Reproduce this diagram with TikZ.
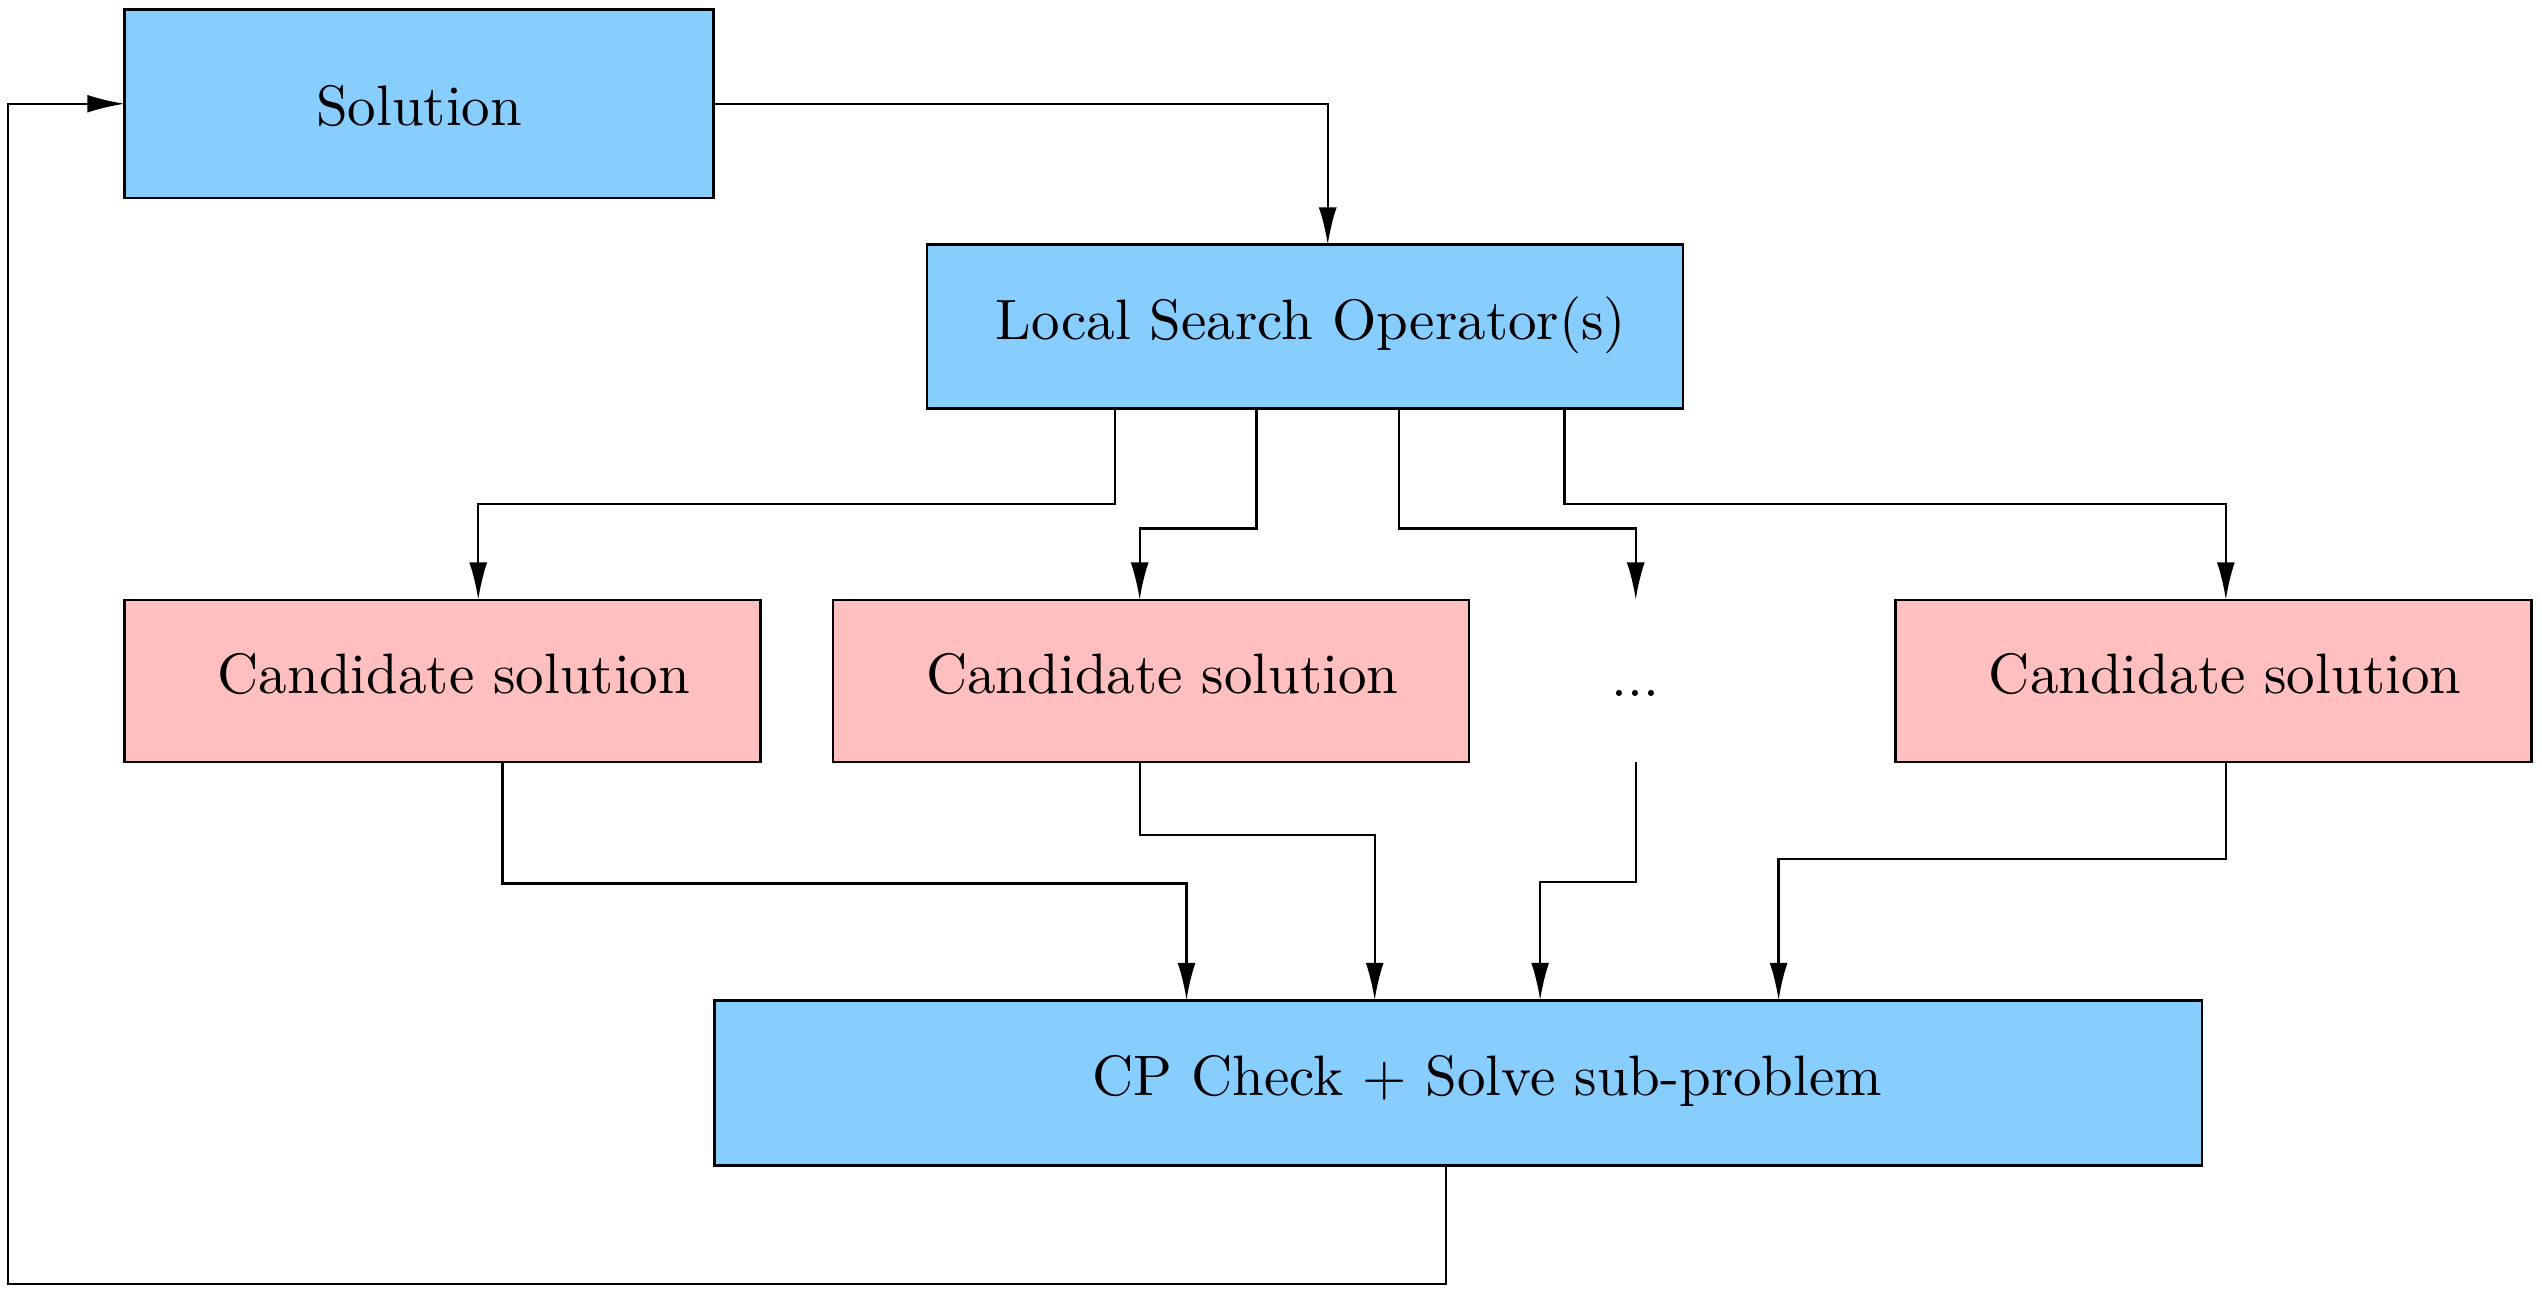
\documentclass[tikz,border=0pt]{standalone}
\usetikzlibrary{arrows.meta}
\definecolor{boxblue}{RGB}{135,206,255}
\definecolor{boxpink}{RGB}{255,191,191}
\begin{document}
\begin{tikzpicture}[x=0.01cm, y=-0.01cm,
	blk/.style={draw, line width=0.45pt, fill=boxblue, inner sep=0pt, outer sep=0pt, text height=1.5ex-1pt, text depth=.25ex},
	cand/.style={blk, fill=boxpink, minimum width=3.92cm, minimum height=1cm},
	arr/.style={line width=0.4pt, -{Latex[length=0.23cm, width=0.11cm]}}]
		\useasboundingbox (0,0) rectangle (1568,797);
		\node[blk, minimum width=3.63cm, minimum height=1.16cm, text height=1.5ex+2.3pt] (sol) at (258.5, 64) {Solution\hspace{0.05cm}};
		\node[blk, minimum width=4.66cm, minimum height=1.01cm] (lso) at (805, 201.5) {\hspace{0.07cm}Local Search Operator(s)};
		\node[cand] (c1) at (273, 420) {\hspace{0.14cm}Candidate solution};
		\node[cand] (c2) at (710, 420) {\hspace{0.14cm}Candidate solution};
		\node[inner sep=0pt, outer sep=0pt, minimum height=1cm, text height=1.5ex, text depth=.25ex] (dots) at (1009, 420) {...};
		\node[cand] (c3) at (1365.5, 420) {\hspace{0.14cm}Candidate solution};
		\node[blk, minimum width=9.17cm, minimum height=1.02cm] (cp) at (899.5, 668) {\hspace{0.36cm}CP Check + Solve sub-problem};
		
		
		\draw[arr] (sol.east) -| ([xshift=0.14cm]lso.north);
		\draw[arr] ([xshift=-1.17cm]lso.south) -- ++(0,59) -| ([xshift=0.22cm]c1.north);
		\draw[arr] ([xshift=-0.30cm]lso.south) -- ++(0,74) -| ([xshift=-0.07cm]c2.north);
		\draw[arr] ([xshift=0.58cm]lso.south) -- ++(0,74) -| (dots.north);
		\draw[arr] ([xshift=1.60cm]lso.south) -- ++(0,59) -| ([xshift=0.075cm]c3.north);
		\draw[arr] ([xshift=0.37cm]c1.south) -- ++(0,75) -| ([xshift=-1.675cm]cp.north);
		\draw[arr] ([xshift=-0.07cm]c2.south) -- ++(0,45) -| ([xshift=-0.515cm]cp.north);
		\draw[arr] (dots.south) -- ++(0,74) -| ([xshift=0.505cm]cp.north);
		\draw[arr] ([xshift=0.075cm]c3.south) -- ++(0,60) -| ([xshift=1.975cm]cp.north);
		\draw[arr] ([xshift=-0.075cm]cp.south) |- (5, 792) |- (sol.west);
		\end{tikzpicture}
\end{document}
